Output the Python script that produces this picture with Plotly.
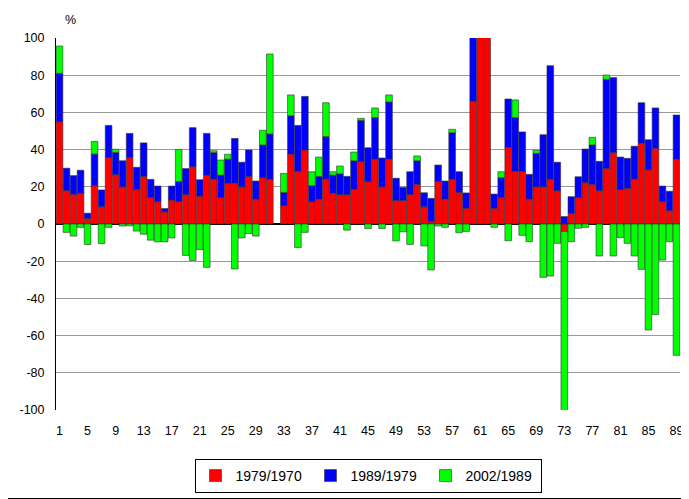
import plotly.graph_objects as go

categories = list(range(1, 90))

red_1979_1970 = [
    55, 18, 16, 16.5, 3, 20.6, 9.3, 35.7, 26.5, 20,
    35.7, 18.5, 25.6, 14.2, 12, 6.5, 12.9, 12, 15.8, 30.8,
    15, 26.3, 24.2, 14.2, 22, 22, 20, 25.6, 13.4, 24.9,
    24.2, None, 9.9, 37.6, 28.3, 39.8, 12, 13.4, 24.2, 16.5,
    15.8, 15.8, 18.6, 33.5, 22.8, 34.9, 20, 34.9, 12.7, 12.7,
    15.8, 21.3, 9.3, 1.3, 22.8, 13.4, 24.2, 17, 8.4, 66.1,
    110, 115, 8.4, 14.2, 41.2, 28.3, 28.3, 13.4, 20, 20,
    24.2, 17.9, -4, 5.7, 14.2, 22.2, 21.3, 17.9, 29.9, 38.4,
    18.5, 19.2, 24.2, 43.4, 29.2, 40.7, 12, 7.2, 34.9,
]

blue_1989_1979 = [
    26, 12, 10, 12.4, 2.8, 17, 9, 17.3, 12, 14,
    13, 12, 18, 9.8, 8.4, 1.8, 7.5, 10.8, 14, 21,
    8.8, 22.4, 14.2, 12.1, 12.9, 24, 13.2, 14.2, 9.7, 17.6,
    24.2, None, 7.1, 20.6, 24.7, 28.8, 8.6, 12.2, 22.8, 9.8,
    11.2, 9.8, 15.4, 22.2, 18.2, 22.3, 15.5, 30.7, 11.9, 7,
    12.3, 12.7, 7.5, 12.5, 8.9, 9.7, 24.9, 11.1, 8.3, 40,
    0, 0, 7.7, 10.7, 26, 28.9, 21.2, 13.3, 18, 28,
    60.9, 15.3, 4, 9, 11.2, 18.1, 21.2, 15.8, 47.9, 40.3,
    17.5, 16.1, 17.6, 21.8, 16.1, 21.7, 8.4, 10.4, 23.7,
]

green_2002_1989 = [
    14.7, -4.5, -6.5, -1.8, -11, 6.8, -10.5, -1.8, 1.7, -1.1,
    -1, -3.8, -5.5, -8.7, -9.6, -9.6, -7.5, 17.3, -16.9, -19.6,
    -13.8, -23.3, 1, 8.1, 2.6, -24.2, -7.5, -5.1, -6.5, 7.9,
    43, None, 10.2, 11.2, -12.7, -4.5, 7.5, 10.4, 18.2, 1.8,
    4.2, -3.3, 4.7, 1.1, -2.4, 5.2, -2.4, 3.8, -9.1, -4.2,
    -11, 2.6, -11.8, -24.7, -1.1, -1.8, 1.8, -4.7, -4, 0,
    0, 0, -1.8, 3.2, -9, 9.5, -6.1, -9.5, 1.6, -28.7,
    -28, -10.4, -97.4, -9.5, -2.3, -1.8, 4.1, -17.2, 2.3, -17.2,
    -7.3, -10.4, -17.2, -24.4, -57, -48.6, -19.4, -9.5, -70.6,
]

series_names = ["1979/1970", "1989/1979", "2002/1989"]
series_colors = ["#ff0000", "#0000ff", "#00ff00"]
x_tick_values = list(range(1, 90, 4))
y_tick_values = list(range(-100, 101, 20))

fig = go.Figure()
for name, vals, col in zip(series_names,
                           [red_1979_1970, blue_1989_1979, green_2002_1989],
                           series_colors):
    fig.add_trace(go.Bar(
        x=categories, y=vals, name=name,
        marker=dict(color=col, line=dict(color="#333333", width=0.6)),
    ))

# the page places the figure 8px from the top-left corner of the window,
# so the figure is sized and laid out to compensate
OFF = 8
W, H = 689 - OFF, 499 - OFF
L, R, T, B = 56 - OFF, 680 - OFF, 38 - OFF, 410 - OFF
pw, ph = R - L, B - T

def px(x):
    return (x - OFF - L) / pw

def py(y):
    return (B - (y - OFF)) / ph

fig.update_layout(
    width=W, height=H,
    barmode="relative", bargap=0.05,
    margin=dict(l=L, r=W - R, t=T, b=H - B, pad=0, autoexpand=False),
    paper_bgcolor="white", plot_bgcolor="white",
    font=dict(family="Liberation Sans, Arial, sans-serif", size=12.5, color="black"),
    showlegend=True,
    legend=dict(
        orientation="h", x=px(368), xanchor="center",
        y=py(459), yanchor="top",
        bordercolor="black", borderwidth=1,
        font=dict(size=14), traceorder="normal",
        entrywidth=70, entrywidthmode="pixels",
        itemwidth=30,
    ),
    xaxis=dict(
        range=[0.5, 89.5], tickvals=x_tick_values,
        ticktext=[str(v) for v in x_tick_values],
        showgrid=False, zeroline=False, showline=False,
        ticks="outside", ticklen=9, tickcolor="rgba(0,0,0,0)",
    ),
    yaxis=dict(
        range=[-100, 100], tickvals=y_tick_values,
        ticktext=[str(v) for v in y_tick_values],
        showgrid=True, gridcolor="#999999", gridwidth=1,
        zeroline=True, zerolinecolor="black", zerolinewidth=1.5,
        showline=True, linecolor="black", linewidth=1,
        ticks="outside", ticklen=8, tickcolor="rgba(0,0,0,0)",
    ),
    annotations=[dict(
        text="%", xref="paper", yref="paper",
        x=px(70), y=py(20), showarrow=False,
        font=dict(size=12.5), xanchor="center", yanchor="middle",
    )],
    shapes=[
        dict(type="line", xref="paper", yref="paper",
             x0=px(688.5), x1=px(688.5), y0=py(0), y1=py(498.5),
             line=dict(color="black", width=1)),
        dict(type="line", xref="paper", yref="paper",
             x0=px(8), x1=px(688.5), y0=py(498.5), y1=py(498.5),
             line=dict(color="black", width=1)),
    ],
)

fig.write_html("out.html")
